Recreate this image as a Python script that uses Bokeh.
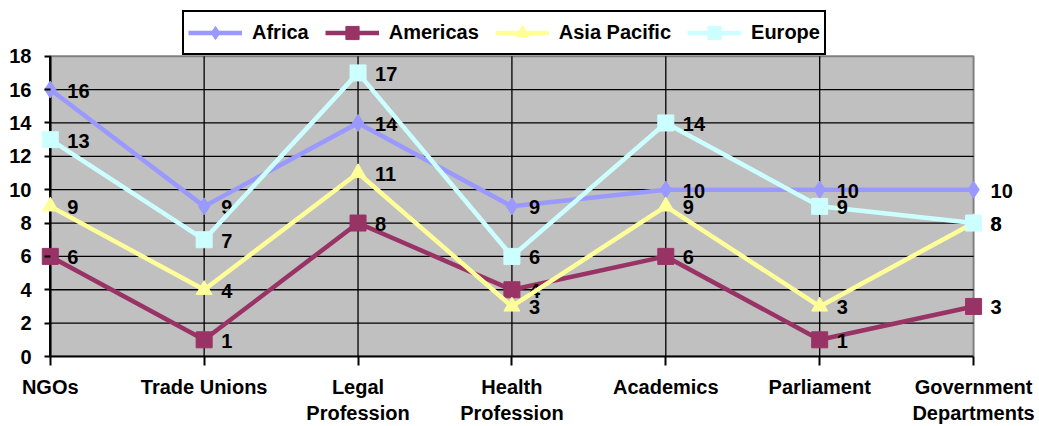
from bokeh.plotting import figure
from bokeh.models import (Range1d, FixedTicker, Legend, LegendItem, ColumnDataSource,
                          BoxAnnotation)
from bokeh.core.properties import value
from bokeh.embed import file_html
from bokeh.resources import INLINE

categories = ["NGOs", "Trade Unions", "Legal\nProfession", "Health\nProfession",
              "Academics", "Parliament", "Government\nDepartments"]
africa = [16, 9, 14, 9, 10, 10, 10]
americas = [6, 1, 8, 4, 6, 1, 3]
asia_pacific = [9, 4, 11, 3, 9, 3, 8]
europe = [13, 7, 17, 6, 14, 9, 8]
y_ticks = [0, 2, 4, 6, 8, 10, 12, 14, 16, 18]

series = [
    ("Africa", africa, "#9999FF", "diamond", 17),
    ("Americas", americas, "#993366", "square", 16),
    ("Asia Pacific", asia_pacific, "#FFFF99", "triangle", 16),
    ("Europe", europe, "#CCFFFF", "square", 16),
]

FONT = "Liberation Sans"
xs = list(range(len(categories)))
last = len(categories) - 1
ymax = y_ticks[-1]

p = figure(width=1039, height=426, output_backend="svg", toolbar_location=None,
           x_range=Range1d(-0.07, 6.37), y_range=Range1d(0, 21.1),
           min_border_left=39, min_border_right=9, min_border_top=4, min_border_bottom=69)
p.background_fill_color = "white"
p.border_fill_color = "white"
p.outline_line_color = None
p.grid.visible = False

# gray plot area spanning the categories and the value range, with gray border
p.add_layout(BoxAnnotation(left=0, right=last, bottom=0, top=ymax,
                           fill_color="#C0C0C0", fill_alpha=1,
                           line_color="#808080", line_width=2, line_alpha=1,
                           level="image"))

# grid lines limited to the plot area
grid_y = y_ticks[1:-1]
p.multi_line(xs=[[0, last] for _ in grid_y], ys=[[t, t] for t in grid_y],
             line_color="black", line_width=1.3)
grid_x = xs[1:-1]
p.multi_line(xs=[[t, t] for t in grid_x], ys=[[0, ymax] for _ in grid_x],
             line_color="black", line_width=1.3)
# y axis line at x = 0
p.multi_line(xs=[[0, 0]], ys=[[0, ymax]], line_color="black", line_width=2.5)

p.xaxis.ticker = FixedTicker(ticks=xs)
p.xaxis.major_label_overrides = {i: c for i, c in enumerate(categories)}
p.xaxis.bounds = (0, last)
p.yaxis.ticker = FixedTicker(ticks=y_ticks)
p.yaxis.bounds = (0, ymax)
for ax in (p.xaxis, p.yaxis):
    ax.axis_line_color = "black"
    ax.axis_line_width = 2
    ax.major_tick_line_color = "black"
    ax.major_tick_line_width = 2
    ax.minor_tick_line_color = None
    ax.major_label_text_font = FONT
    ax.major_label_text_font_style = "bold"
    ax.major_label_text_font_size = "20px"
    ax.major_label_text_color = "black"
p.xaxis.major_tick_in = 0
p.xaxis.major_tick_out = 9
p.xaxis.major_label_standoff = 10
# y axis sits at the frame edge; ticks drawn just left of x=0
p.yaxis.axis_line_color = None
p.yaxis.major_tick_in = 11
p.yaxis.major_tick_out = -5
p.yaxis.major_label_standoff = 8

items = []
for name, vals, color, marker, size in series:
    src = ColumnDataSource(dict(x=xs, y=vals, lbl=[str(v) for v in vals]))
    ln = p.line("x", "y", source=src, line_color=color, line_width=4.5)
    mk = p.scatter("x", "y", source=src, marker=marker, size=size,
                   fill_color=color, line_color=color)
    p.text("x", "y", text="lbl", source=src, x_offset=17, y_offset=1,
           text_font=value(FONT), text_font_style="bold", text_font_size="20px",
           text_baseline="middle", text_align="left", text_color="black")
    items.append(LegendItem(label=name, renderers=[ln, mk]))

legend = Legend(items=items, orientation="horizontal", location=(143, 301),
                label_text_font=FONT, label_text_font_style="bold",
                label_text_font_size="20px", label_text_color="black",
                glyph_width=54, glyph_height=33, spacing=16, padding=4, margin=0,
                border_line_color="black", border_line_width=2, border_line_alpha=1,
                background_fill_color="white", background_fill_alpha=1,
                label_standoff=10)
p.add_layout(legend, "center")

open("out.html", "w").write(file_html(p, INLINE))
